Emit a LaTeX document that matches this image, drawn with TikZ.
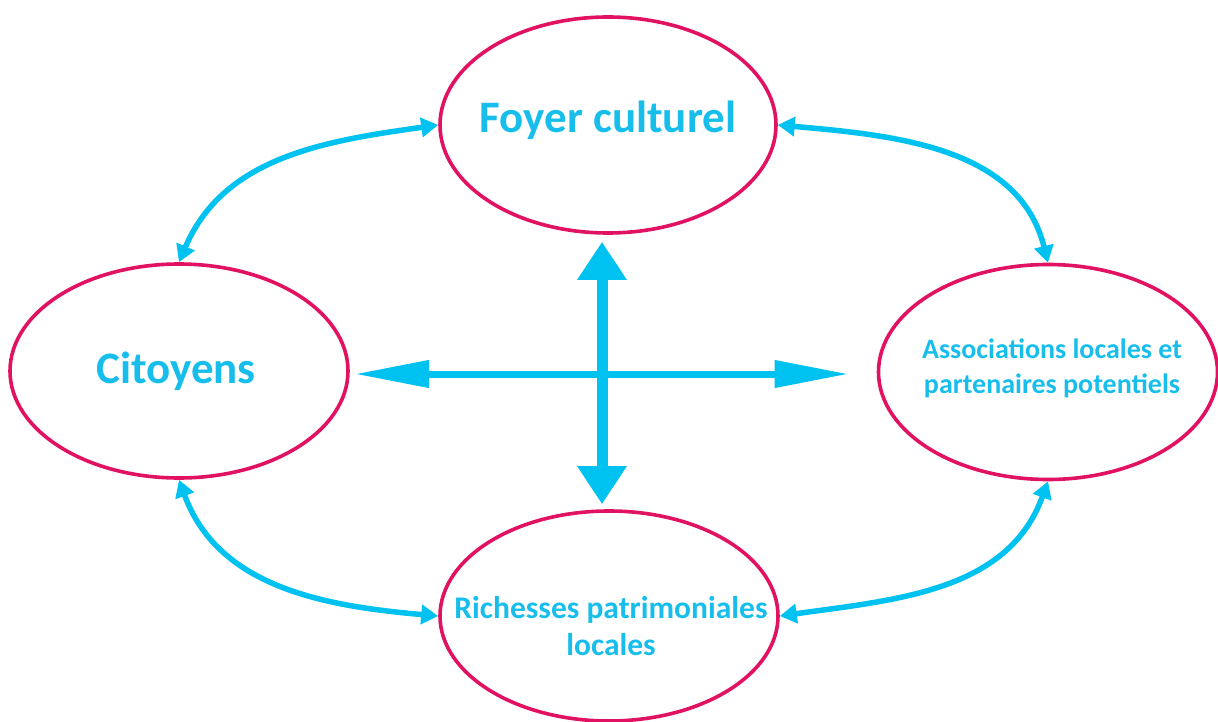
\documentclass[tikz,border=0pt]{standalone}
\usepackage{fontspec}
\setmainfont{Carlito}
\usetikzlibrary{shapes.geometric,arrows.meta}
\definecolor{cyanA}{RGB}{0,194,240}
\definecolor{cyanT}{RGB}{24,190,235}
\definecolor{rim}{RGB}{226,18,98}
\tikzset{
  oval/.style={ellipse, draw=rim, line width=3.6pt, inner sep=0pt},
  lbl/.style={text=cyanT, font=\bfseries, align=center, inner sep=0pt},
  link/.style={draw=cyanA, line width=5.5pt, {Triangle[length=17pt,width=19pt]}-{Triangle[length=17pt,width=19pt]}},
  bigv/.style={draw=cyanA, line width=11pt, {Triangle[length=38pt,width=47pt]}-{Triangle[length=38pt,width=47pt]}},
  bigh/.style={draw=cyanA, line width=7pt, {Triangle[length=74pt,width=26pt]}-{Triangle[length=74pt,width=26pt]}}
}
\begin{document}
\begin{tikzpicture}[x=1pt,y=1pt]
\useasboundingbox (0,0) rectangle (1218,-722);
\node[oval, minimum width=336pt, minimum height=216pt] (foy) at (608,-125) {};
\node[oval, minimum width=338pt, minimum height=214pt] (cit) at (179,-371) {};
\node[oval, minimum width=339pt, minimum height=215pt] (asso) at (1048,-372) {};
\node[oval, minimum width=338pt, minimum height=210pt] (rich) at (609,-616) {};
\node[lbl, font=\bfseries\fontsize{45}{50}\selectfont, anchor=base] (foyt) at (608,-133) {Foyer culturel};
\node[lbl, font=\bfseries\fontsize{45}{50}\selectfont, anchor=base] (citt) at (176,-383) {Citoyens};
\node[lbl, font=\bfseries\fontsize{28}{35}\selectfont, anchor=base] (asso1) at (1052,-358) {Associations locales et};
\node[lbl, font=\bfseries\fontsize{28}{35}\selectfont, anchor=base] (asso2) at (1052,-393) {partenaires potentiels};
\node[lbl, font=\bfseries\fontsize{31.5}{37}\selectfont, anchor=base] (rich1) at (611,-618) {Richesses patrimoniales};
\node[lbl, font=\bfseries\fontsize{31.5}{37}\selectfont, anchor=base] (rich2) at (611,-655) {locales};
\coordinate (c) at (602,-374);
\draw[bigv] ([yshift=-7pt]foy.south -| c) -- ([yshift=5pt]rich.north -| c);
\draw[bigh] ([xshift=5pt]cit.east |- c) -- ([xshift=-28pt]asso.west |- c);
\draw[link] (cit.north) to[out=67, in=188] (foy.west);
\draw[link] (foy.east) to[out=-5, in=104] (asso.north);
\draw[link] (cit.south) to[out=-70, in=175] (rich.west);
\draw[link] (rich.east) to[out=8, in=-110] (asso.south);
\end{tikzpicture}
\end{document}
